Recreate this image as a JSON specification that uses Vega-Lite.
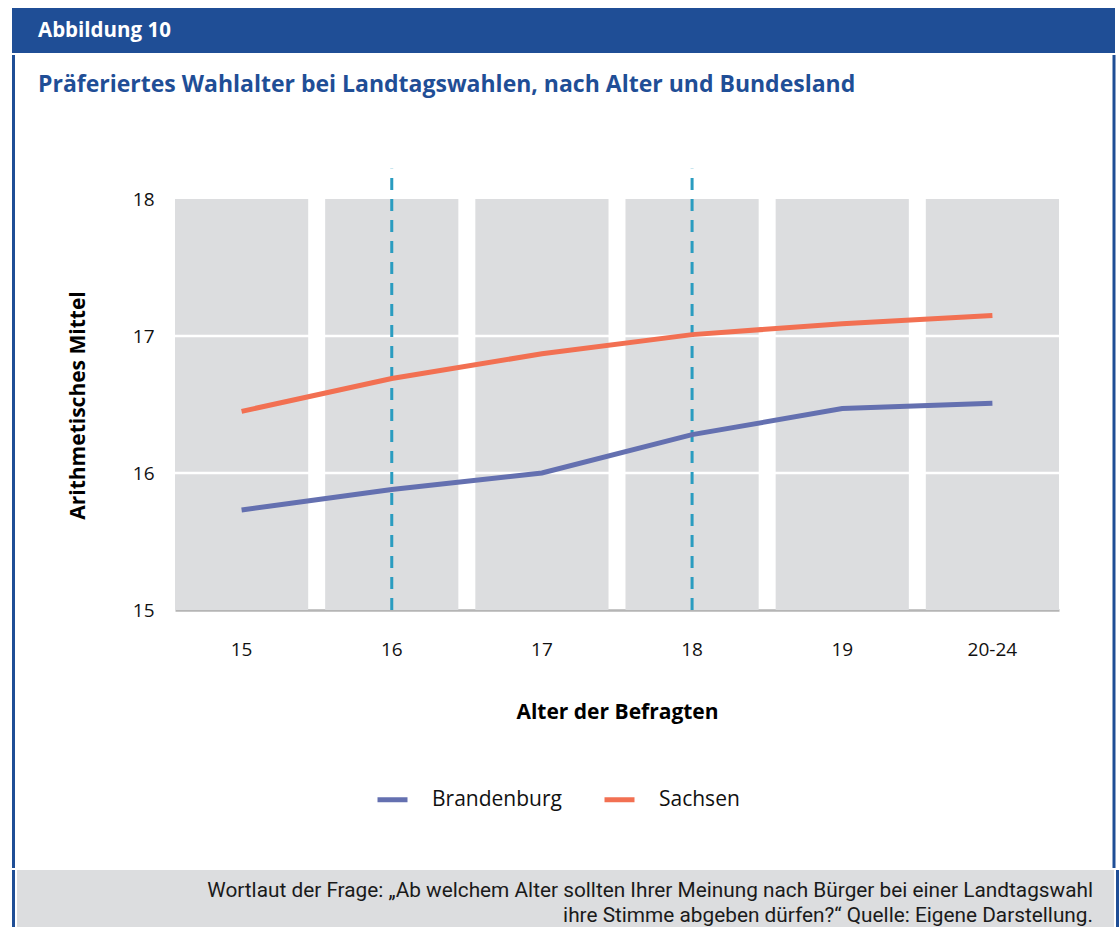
{
  "$schema": "https://vega.github.io/schema/vega-lite/v6.json",
  "background": "white",
  "padding": {"left": 10, "top": 8, "right": 0, "bottom": 0},
  "spacing": 0,
  "config": {"view": {"stroke": null}, "font": "Open Sans"},
  "datasets": {
    "werte": [
      {"alter": "15", "land": "Brandenburg", "wert": 15.73},
      {"alter": "16", "land": "Brandenburg", "wert": 15.88},
      {"alter": "17", "land": "Brandenburg", "wert": 16.0},
      {"alter": "18", "land": "Brandenburg", "wert": 16.28},
      {"alter": "19", "land": "Brandenburg", "wert": 16.47},
      {"alter": "20-24", "land": "Brandenburg", "wert": 16.51},
      {"alter": "15", "land": "Sachsen", "wert": 16.45},
      {"alter": "16", "land": "Sachsen", "wert": 16.69},
      {"alter": "17", "land": "Sachsen", "wert": 16.87},
      {"alter": "18", "land": "Sachsen", "wert": 17.01},
      {"alter": "19", "land": "Sachsen", "wert": 17.09},
      {"alter": "20-24", "land": "Sachsen", "wert": 17.15}
    ],
    "kategorien": [
      {"alter": "15"}, {"alter": "16"}, {"alter": "17"},
      {"alter": "18"}, {"alter": "19"}, {"alter": "20-24"}
    ],
    "gitter": [{"wert": 16}, {"wert": 17}],
    "marken": [{"alter": "16"}, {"alter": "18"}]
  },
  "vconcat": [
    {
      "width": 1103,
      "height": 45,
      "view": {"fill": "#1f4e96", "stroke": null},
      "data": {"values": [{"t": "Abbildung 10"}]},
      "mark": {"type": "text", "align": "left", "baseline": "middle", "dx": 26, "color": "white", "font": "Open Sans", "fontSize": 20.5, "fontWeight": "bold"},
      "encoding": {
        "x": {"datum": 0, "type": "quantitative", "scale": {"domain": [0, 1]}, "axis": null},
        "text": {"field": "t"}
      }
    },
    {
      "spacing": 21,
      "hconcat": [
        {
          "width": 3,
          "height": 813,
          "view": {"fill": "#1f4e96", "stroke": null},
          "data": {"values": [{}]},
          "mark": {"type": "point", "opacity": 0}
        },
        {
          "width": 884,
          "height": 555,
          "title": {
            "text": "Präferiertes Wahlalter bei Landtagswahlen, nach Alter und Bundesland",
            "anchor": "start",
            "frame": "group",
            "dx": -137,
            "offset": -60,
            "baseline": "alphabetic",
            "font": "Open Sans",
            "fontSize": 23,
            "fontWeight": "bold",
            "color": "#1f4e96"
          },
          "layer": [
            {
              "data": {"name": "kategorien"},
              "mark": {"type": "bar", "color": "#dcdddf"},
              "encoding": {
                "x": {
                  "field": "alter", "type": "nominal",
                  "sort": ["15", "16", "17", "18", "19", "20-24"],
                  "title": "Alter der Befragten",
                  "scale": {"paddingInner": 0.113, "paddingOuter": 0},
                  "axis": {
                    "labelAngle": 0, "labelFont": "Open Sans", "labelFontSize": 19, "labelColor": "#111111",
                    "labelPadding": 30, "labelBaseline": "top", "ticks": false, "tickSize": 0,
                    "domain": true, "domainColor": "#b5b5b5", "domainWidth": 2.5,
                    "titleFont": "Open Sans", "titleFontSize": 21, "titleFontWeight": "bold", "titleColor": "#000000",
                    "titlePadding": 42
                  }
                },
                "y": {
                  "datum": 18, "type": "quantitative",
                  "title": "Arithmetisches Mittel",
                  "scale": {"domain": [15, 19.0511], "nice": false, "zero": false},
                  "axis": {
                    "values": [15, 16, 17, 18], "format": "d", "grid": false, "domain": false, "ticks": false, "tickSize": 0,
                    "labelFont": "Open Sans", "labelFontSize": 19, "labelColor": "#111111", "labelPadding": 21,
                    "titleFont": "Open Sans", "titleFontSize": 21, "titleFontWeight": "bold", "titleColor": "#000000",
                    "titlePadding": 44, "titleY": 350
                  }
                },
                "y2": {"datum": 15}
              }
            },
            {
              "data": {"name": "gitter"},
              "mark": {"type": "rule", "color": "white", "strokeWidth": 2.5},
              "encoding": {
                "y": {"field": "wert", "type": "quantitative", "title": "Arithmetisches Mittel"}
              }
            },
            {
              "data": {"name": "marken"},
              "mark": {"type": "rule", "color": "#2a9cc0", "strokeWidth": 3, "strokeDash": [12, 9]},
              "encoding": {
                "x": {"field": "alter", "type": "nominal", "sort": ["15", "16", "17", "18", "19", "20-24"], "title": "Alter der Befragten"},
                "y": {"datum": 15, "type": "quantitative", "title": "Arithmetisches Mittel"},
                "y2": {"datum": 18.22}
              }
            },
            {
              "data": {"name": "werte"},
              "mark": {"type": "line", "strokeWidth": 5},
              "encoding": {
                "x": {"field": "alter", "type": "nominal", "sort": ["15", "16", "17", "18", "19", "20-24"], "title": "Alter der Befragten"},
                "y": {"field": "wert", "type": "quantitative", "title": "Arithmetisches Mittel"},
                "color": {
                  "field": "land", "type": "nominal",
                  "scale": {"domain": ["Brandenburg", "Sachsen"], "range": ["#6470b0", "#f27052"]},
                  "legend": {
                    "orient": "none", "legendX": 363, "legendY": 774, "direction": "horizontal", "title": null,
                    "symbolType": "stroke", "symbolSize": 900, "symbolStrokeWidth": 5,
                    "labelFont": "Open Sans", "labelFontSize": 21, "labelColor": "#111111",
                    "labelOffset": 22, "columnPadding": 32
                  }
                }
              }
            }
          ]
        },
        {
          "width": 32,
          "height": 813,
          "view": {"stroke": null},
          "data": {"values": [{}]},
          "mark": {"type": "rule", "color": "#1f4e96", "strokeWidth": 3},
          "encoding": {
            "x": {"datum": 1, "type": "quantitative", "scale": {"domain": [0, 1]}, "axis": null}
          }
        }
      ]
    },
    {
      "spacing": 0,
      "hconcat": [
        {
          "width": 3,
          "height": 61,
          "view": {"fill": "#1f4e96", "stroke": null},
          "data": {"values": [{}]},
          "mark": {"type": "point", "opacity": 0}
        },
        {
          "width": 1097,
          "height": 61,
          "view": {"fill": "#dcdddf", "stroke": null},
          "data": {"values": [{"t": ["Wortlaut der Frage: „Ab welchem Alter sollten Ihrer Meinung nach Bürger bei einer Landtagswahl", "ihre Stimme abgeben dürfen?“ Quelle: Eigene Darstellung."]}]},
          "mark": {"type": "text", "align": "right", "baseline": "middle", "dx": -21, "dy": -10, "lineHeight": 25, "color": "#1a1a1a", "font": "Roboto", "fontSize": 20.8},
          "encoding": {
            "x": {"datum": 1, "type": "quantitative", "scale": {"domain": [0, 1]}, "axis": null},
            "text": {"field": "t"}
          }
        },
        {
          "width": 3,
          "height": 61,
          "view": {"fill": "#1f4e96", "stroke": null},
          "data": {"values": [{}]},
          "mark": {"type": "point", "opacity": 0}
        }
      ]
    }
  ]
}
